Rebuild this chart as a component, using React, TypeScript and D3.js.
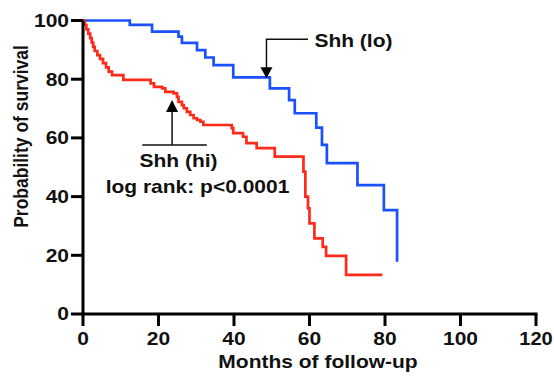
import * as d3 from 'd3';

// Shh (lo) group: months at each drop and survival (%) after it
const loMonths = [0, 12.4, 18.3, 25.3, 26.2, 30.2, 32.4, 34.6, 39.8, 49.5, 54.6, 56.1, 61.8, 63.3, 64.6, 72.7, 79.7, 83.2];
const loSurvival = [100, 98.5, 96.2, 94.5, 92.4, 89.9, 87.4, 84.8, 80.6, 76.9, 72.9, 68.4, 63.5, 57.6, 51.4, 43.9, 35.4, 17.8];

// Shh (hi) group
const hiMonths = [0, 0.4, 0.9, 1.4, 1.9, 2.3, 2.7, 3.1, 3.8, 4.5, 5.3, 6.1, 6.8, 7.7, 10.7, 17.9, 18.8, 21.0, 21.8, 24.0, 24.9, 25.3, 26.2, 26.7, 27.5, 28.4, 29.3, 30.2, 31.1, 31.9, 39.4, 39.8, 42.4, 43.3, 46.0, 50.8, 58.4, 58.9, 59.6, 60.0, 61.3, 63.5, 64.4, 69.7, 79.3];
const hiSurvival = [100, 98.5, 97, 95.5, 94, 92.5, 91, 89.6, 88.2, 86.9, 85.5, 84, 82.6, 81.4, 79.8, 78.6, 77.4, 76.9, 75.7, 75.2, 74.0, 72.3, 71.2, 70.1, 68.9, 67.8, 66.7, 66.1, 65.5, 64.4, 63.3, 61.6, 60.4, 58.2, 56.5, 53.6, 48.5, 40.0, 36.0, 30.9, 25.8, 22.9, 19.8, 13.3, 13.3];

const xTicks = [0, 20, 40, 60, 80, 100, 120];
const yTicks = [0, 20, 40, 60, 80, 100];

const FONT = '"Liberation Sans", Arial, Helvetica, sans-serif';
const FS = 17.5;
const SX = 1.2; // the original text is stretched sideways

export default function App() {
  const width = 554;
  const height = 377;

  const x = d3.scaleLinear().domain([0, 120]).range([83, 536]);
  const y = d3.scaleLinear().domain([0, 100]).range([314, 20.5]);

  const line = d3
    .line<[number, number]>()
    .x((d) => x(d[0]))
    .y((d) => y(d[1]))
    .curve(d3.curveStepAfter);

  const loPts = loMonths.map((m, i) => [m, loSurvival[i]] as [number, number]);
  const hiPts = hiMonths.map((m, i) => [m, hiSurvival[i]] as [number, number]);

  const txt = (s: string, px: number, py: number, anchor: string, sx: number = SX) => (
    <text
      transform={`translate(${px},${py}) scale(${sx},1)`}
      textAnchor={anchor}
      fontFamily={FONT}
      fontWeight="bold"
      fontSize={FS}
      fill="#111"
    >
      {s}
    </text>
  );

  // annotation anchors (data units)
  const loArrowX = x(48.6);
  const loArrowTip = y(80.3);
  const loArrowTop = y(93.6);
  const hiArrowX = x(23.6);
  const hiArrowTip = y(72.9);
  const hiArrowBase = y(57.6);

  return (
    <svg width={width} height={height} style={{ position: 'absolute', left: 0, top: 0, background: '#fff' }}>
      {/* curves */}
      <path d={line(loPts) || ''} fill="none" stroke="#1b50ff" strokeWidth={2.7} />
      <path d={line(hiPts) || ''} fill="none" stroke="#ff2a1a" strokeWidth={2.7} />

      {/* axes */}
      <line x1={x(0)} x2={x(0)} y1={y(100)} y2={y(0)} stroke="#000" strokeWidth={3} />
      <line x1={x(0) - 1.5} x2={x(120) + 1.5} y1={y(0)} y2={y(0)} stroke="#000" strokeWidth={3} />
      {yTicks.map((t) => (
        <g key={'y' + t}>
          <line x1={x(0) - 12} x2={x(0)} y1={y(t)} y2={y(t)} stroke="#000" strokeWidth={3} />
          {txt(String(t), x(0) - 14, y(t) + 6.3, 'end')}
        </g>
      ))}
      {xTicks.map((t) => (
        <g key={'x' + t}>
          <line x1={x(t)} x2={x(t)} y1={y(0)} y2={y(0) + 12} stroke="#000" strokeWidth={3} />
          {txt(String(t), x(t), 345, 'middle', t === 120 ? 1.15 : SX)}
        </g>
      ))}

      {/* axis titles */}
      {txt('Months of follow-up', 318, 368, 'middle')}
      <text
        transform={`translate(28,136.5) scale(${SX},1) rotate(-90)`}
        textAnchor="middle"
        fontFamily={FONT}
        fontWeight="bold"
        fontSize={FS}
        fill="#111"
      >
        Probability of survival
      </text>

      {/* Shh (lo) annotation */}
      <path
        d={`M${x(59.6)},${loArrowTop}H${loArrowX}V${loArrowTip - 10}`}
        fill="none"
        stroke="#111"
        strokeWidth={1.5}
      />
      <path
        d={`M${loArrowX - 6},${loArrowTip - 11}L${loArrowX + 6},${loArrowTip - 11}L${loArrowX},${loArrowTip}Z`}
        fill="#000"
      />
      {txt('Shh (lo)', x(61.3), 46.5, 'start')}

      {/* Shh (hi) annotation */}
      <path
        d={`M${x(15.7)},${hiArrowBase}H${x(32.8)}M${hiArrowX},${hiArrowBase}V${hiArrowTip + 10}`}
        fill="none"
        stroke="#111"
        strokeWidth={1.5}
      />
      <path
        d={`M${hiArrowX - 6},${hiArrowTip + 12}L${hiArrowX + 6},${hiArrowTip + 12}L${hiArrowX},${hiArrowTip}Z`}
        fill="#000"
      />
      {txt('Shh (hi)', 178.5, 166.5, 'middle')}
      {txt('log rank: p<0.0001', 197.5, 193, 'middle')}
    </svg>
  );
}
